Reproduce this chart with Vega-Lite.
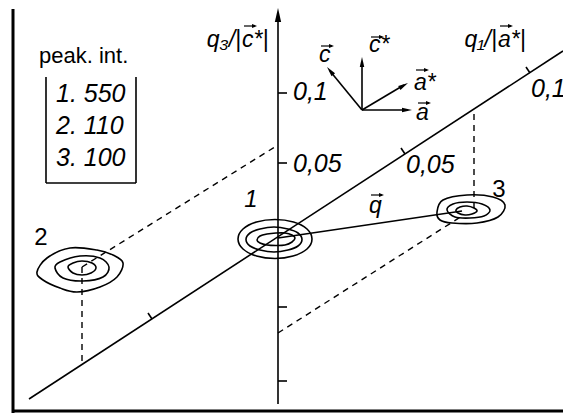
{
  "$schema": "https://vega.github.io/schema/vega-lite/v6.json",
  "width": 563,
  "height": 414,
  "padding": 0,
  "autosize": {"type": "none"},
  "background": "white",
  "config": {"view": {"stroke": null}},
  "datasets": {
    "segments": [
      {"g": "frame", "x": 13, "y": 9, "x2": 13, "y2": 413},
      {"g": "frame", "x": 12, "y": 411, "x2": 563, "y2": 411},
      {"g": "axis", "x": 278, "y": 18, "x2": 278, "y2": 404},
      {"g": "axis", "x": 29, "y": 399, "x2": 563, "y2": 51},
      {"g": "axis", "x": 278, "y": 93, "x2": 287, "y2": 93},
      {"g": "axis", "x": 278, "y": 163, "x2": 287, "y2": 163},
      {"g": "axis", "x": 278, "y": 307, "x2": 287, "y2": 307},
      {"g": "axis", "x": 278, "y": 381, "x2": 287, "y2": 381},
      {"g": "axis", "x": 405, "y": 154, "x2": 401, "y2": 148},
      {"g": "axis", "x": 530, "y": 73, "x2": 526, "y2": 67},
      {"g": "axis", "x": 152, "y": 319, "x2": 148, "y2": 313},
      {"g": "dash", "x": 82, "y": 267, "x2": 82, "y2": 364},
      {"g": "dash", "x": 82, "y": 267, "x2": 278, "y2": 145},
      {"g": "dash", "x": 474, "y": 114, "x2": 474, "y2": 210},
      {"g": "dash", "x": 278, "y": 333, "x2": 462, "y2": 216},
      {"g": "axis", "x": 278, "y": 238, "x2": 462, "y2": 211},
      {"g": "axis", "x": 362, "y": 110, "x2": 362, "y2": 62},
      {"g": "axis", "x": 362, "y": 110, "x2": 330, "y2": 71},
      {"g": "axis", "x": 362, "y": 110, "x2": 404, "y2": 85},
      {"g": "axis", "x": 362, "y": 110, "x2": 408, "y2": 110},
      {"g": "axis", "x": 46, "y": 77, "x2": 46, "y2": 183},
      {"g": "axis", "x": 46, "y": 183, "x2": 136, "y2": 183},
      {"g": "axis", "x": 136, "y": 77, "x2": 136, "y2": 183},
      {"g": "vec", "x": 321, "y": 46, "x2": 332, "y2": 46},
      {"g": "vec", "x": 371, "y": 37, "x2": 382, "y2": 37},
      {"g": "vec", "x": 416, "y": 70, "x2": 427, "y2": 70},
      {"g": "vec", "x": 418, "y": 103, "x2": 429, "y2": 103},
      {"g": "vec", "x": 371, "y": 195, "x2": 382, "y2": 195},
      {"g": "vec", "x": 244, "y": 26, "x2": 255, "y2": 26},
      {"g": "vec", "x": 500, "y": 26, "x2": 511, "y2": 26}
    ],
    "heads": [
      {"g": "big", "x": 278, "y": 8, "dir": 0},
      {"g": "small", "x": 362, "y": 57, "dir": 0},
      {"g": "small", "x": 327, "y": 67, "dir": 321},
      {"g": "small", "x": 408, "y": 83, "dir": 60},
      {"g": "small", "x": 412, "y": 110, "dir": 90},
      {"g": "tiny", "x": 334, "y": 46, "dir": 90},
      {"g": "tiny", "x": 384, "y": 37, "dir": 90},
      {"g": "tiny", "x": 429, "y": 70, "dir": 90},
      {"g": "tiny", "x": 431, "y": 103, "dir": 90},
      {"g": "tiny", "x": 384, "y": 195, "dir": 90},
      {"g": "tiny", "x": 257, "y": 26, "dir": 90},
      {"g": "tiny", "x": 513, "y": 26, "dir": 90}
    ],
    "contours": [
      {"c": "1o", "i": 0, "x": 312, "y": 239}, {"c": "1o", "i": 1, "x": 307, "y": 249},
      {"c": "1o", "i": 2, "x": 293, "y": 256}, {"c": "1o", "i": 3, "x": 275, "y": 258.5},
      {"c": "1o", "i": 4, "x": 256.5, "y": 256}, {"c": "1o", "i": 5, "x": 243, "y": 249},
      {"c": "1o", "i": 6, "x": 238, "y": 239}, {"c": "1o", "i": 7, "x": 243, "y": 229},
      {"c": "1o", "i": 8, "x": 256.5, "y": 222}, {"c": "1o", "i": 9, "x": 275, "y": 219.5},
      {"c": "1o", "i": 10, "x": 293.5, "y": 222}, {"c": "1o", "i": 11, "x": 307, "y": 229},
      {"c": "1m", "i": 0, "x": 302, "y": 239.5}, {"c": "1m", "i": 1, "x": 298, "y": 246},
      {"c": "1m", "i": 2, "x": 288, "y": 250}, {"c": "1m", "i": 3, "x": 274, "y": 252},
      {"c": "1m", "i": 4, "x": 260, "y": 250}, {"c": "1m", "i": 5, "x": 250, "y": 246},
      {"c": "1m", "i": 6, "x": 246, "y": 239.5}, {"c": "1m", "i": 7, "x": 250, "y": 233},
      {"c": "1m", "i": 8, "x": 260, "y": 229}, {"c": "1m", "i": 9, "x": 274, "y": 227},
      {"c": "1m", "i": 10, "x": 288, "y": 229}, {"c": "1m", "i": 11, "x": 298, "y": 233},
      {"c": "1i", "i": 0, "x": 295, "y": 238}, {"c": "1i", "i": 1, "x": 292, "y": 242},
      {"c": "1i", "i": 2, "x": 285, "y": 245}, {"c": "1i", "i": 3, "x": 276, "y": 245.5},
      {"c": "1i", "i": 4, "x": 267, "y": 245}, {"c": "1i", "i": 5, "x": 260, "y": 243},
      {"c": "1i", "i": 6, "x": 257, "y": 240}, {"c": "1i", "i": 7, "x": 260, "y": 236},
      {"c": "1i", "i": 8, "x": 267, "y": 234}, {"c": "1i", "i": 9, "x": 276, "y": 233},
      {"c": "1i", "i": 10, "x": 285, "y": 233}, {"c": "1i", "i": 11, "x": 292, "y": 235},
      {"c": "2o", "i": 0, "x": 123, "y": 263}, {"c": "2o", "i": 1, "x": 117, "y": 277},
      {"c": "2o", "i": 2, "x": 100, "y": 287}, {"c": "2o", "i": 3, "x": 77, "y": 292},
      {"c": "2o", "i": 4, "x": 60, "y": 288}, {"c": "2o", "i": 5, "x": 43, "y": 280},
      {"c": "2o", "i": 6, "x": 37, "y": 272}, {"c": "2o", "i": 7, "x": 47, "y": 258},
      {"c": "2o", "i": 8, "x": 70, "y": 248}, {"c": "2o", "i": 9, "x": 97, "y": 250},
      {"c": "2o", "i": 10, "x": 113, "y": 255},
      {"c": "2m", "i": 0, "x": 109, "y": 267}, {"c": "2m", "i": 1, "x": 103, "y": 277},
      {"c": "2m", "i": 2, "x": 83, "y": 281}, {"c": "2m", "i": 3, "x": 63, "y": 278},
      {"c": "2m", "i": 4, "x": 55, "y": 268}, {"c": "2m", "i": 5, "x": 60, "y": 262},
      {"c": "2m", "i": 6, "x": 80, "y": 256}, {"c": "2m", "i": 7, "x": 100, "y": 258},
      {"c": "2i", "i": 0, "x": 96, "y": 268}, {"c": "2i", "i": 1, "x": 91, "y": 273},
      {"c": "2i", "i": 2, "x": 82, "y": 275}, {"c": "2i", "i": 3, "x": 73, "y": 273},
      {"c": "2i", "i": 4, "x": 68, "y": 267}, {"c": "2i", "i": 5, "x": 73, "y": 263},
      {"c": "2i", "i": 6, "x": 82, "y": 261}, {"c": "2i", "i": 7, "x": 92, "y": 263},
      {"c": "3o", "i": 0, "x": 505, "y": 205}, {"c": "3o", "i": 1, "x": 498, "y": 217},
      {"c": "3o", "i": 2, "x": 477, "y": 223}, {"c": "3o", "i": 3, "x": 452, "y": 223},
      {"c": "3o", "i": 4, "x": 440, "y": 220}, {"c": "3o", "i": 5, "x": 437, "y": 212},
      {"c": "3o", "i": 6, "x": 443, "y": 200}, {"c": "3o", "i": 7, "x": 467, "y": 195},
      {"c": "3o", "i": 8, "x": 493, "y": 197},
      {"c": "3m", "i": 0, "x": 490, "y": 210}, {"c": "3m", "i": 1, "x": 484, "y": 216},
      {"c": "3m", "i": 2, "x": 470, "y": 218}, {"c": "3m", "i": 3, "x": 455, "y": 217},
      {"c": "3m", "i": 4, "x": 447, "y": 210}, {"c": "3m", "i": 5, "x": 453, "y": 204},
      {"c": "3m", "i": 6, "x": 467, "y": 202}, {"c": "3m", "i": 7, "x": 482, "y": 204},
      {"c": "3i", "i": 0, "x": 477, "y": 211}, {"c": "3i", "i": 1, "x": 472, "y": 214},
      {"c": "3i", "i": 2, "x": 465, "y": 215}, {"c": "3i", "i": 3, "x": 458, "y": 213},
      {"c": "3i", "i": 4, "x": 456, "y": 210}, {"c": "3i", "i": 5, "x": 460, "y": 207},
      {"c": "3i", "i": 6, "x": 467, "y": 206}, {"c": "3i", "i": 7, "x": 474, "y": 208}
    ],
    "labels": [
      {"g": "tick", "x": 293, "y": 100, "t": "0,1"},
      {"g": "tick", "x": 293, "y": 172, "t": "0,05"},
      {"g": "tick", "x": 406, "y": 173, "t": "0,05"},
      {"g": "tick", "x": 531, "y": 97, "t": "0,1"},
      {"g": "axR", "x": 241, "y": 47, "t": "q₃/|"},
      {"g": "it23", "x": 242, "y": 47, "t": "c*|"},
      {"g": "axR", "x": 497, "y": 47, "t": "q₁/|"},
      {"g": "it23", "x": 498, "y": 47, "t": "a*|"},
      {"g": "it23", "x": 319, "y": 62, "t": "c"},
      {"g": "it23", "x": 369, "y": 52, "t": "c*"},
      {"g": "it23", "x": 414, "y": 90, "t": "a*"},
      {"g": "it23", "x": 416, "y": 120, "t": "a"},
      {"g": "it23", "x": 369, "y": 213, "t": "q"},
      {"g": "spotI", "x": 251, "y": 207, "t": "1"},
      {"g": "spot", "x": 41, "y": 245, "t": "2"},
      {"g": "spot", "x": 499, "y": 197, "t": "3"},
      {"g": "title", "x": 39, "y": 63, "t": "peak. int."},
      {"g": "entry", "x": 56, "y": 102, "t": "1. 550"},
      {"g": "entry", "x": 56, "y": 134, "t": "2. 110"},
      {"g": "entry", "x": 56, "y": 166, "t": "3. 100"}
    ]
  },
  "layer": [
    {
      "data": {"name": "segments"},
      "transform": [{"filter": "datum.g === 'frame'"}],
      "mark": {"type": "rule", "color": "black", "strokeWidth": 3},
      "encoding": {
        "x": {"field": "x", "type": "quantitative", "scale": {"domain": [0, 563], "nice": false}, "axis": null},
        "y": {"field": "y", "type": "quantitative", "scale": {"domain": [0, 414], "nice": false, "reverse": true}, "axis": null},
        "x2": {"field": "x2"},
        "y2": {"field": "y2"}
      }
    },
    {
      "data": {"name": "segments"},
      "transform": [{"filter": "datum.g === 'axis'"}],
      "mark": {"type": "rule", "color": "black", "strokeWidth": 1.6},
      "encoding": {
        "x": {"field": "x", "type": "quantitative"},
        "y": {"field": "y", "type": "quantitative"},
        "x2": {"field": "x2"},
        "y2": {"field": "y2"}
      }
    },
    {
      "data": {"name": "segments"},
      "transform": [{"filter": "datum.g === 'vec'"}],
      "mark": {"type": "rule", "color": "black", "strokeWidth": 1.2},
      "encoding": {
        "x": {"field": "x", "type": "quantitative"},
        "y": {"field": "y", "type": "quantitative"},
        "x2": {"field": "x2"},
        "y2": {"field": "y2"}
      }
    },
    {
      "data": {"name": "segments"},
      "transform": [{"filter": "datum.g === 'dash'"}],
      "mark": {"type": "rule", "color": "black", "strokeWidth": 1.4, "strokeDash": [6, 5]},
      "encoding": {
        "x": {"field": "x", "type": "quantitative"},
        "y": {"field": "y", "type": "quantitative"},
        "x2": {"field": "x2"},
        "y2": {"field": "y2"}
      }
    },
    {
      "data": {"name": "contours"},
      "mark": {"type": "line", "color": "black", "strokeWidth": 1.6, "interpolate": "cardinal-closed"},
      "encoding": {
        "x": {"field": "x", "type": "quantitative"},
        "y": {"field": "y", "type": "quantitative"},
        "detail": {"field": "c"},
        "order": {"field": "i", "type": "quantitative"}
      }
    },
    {
      "data": {"name": "heads"},
      "transform": [{"filter": "datum.g === 'big'"}],
      "mark": {"type": "point", "filled": true, "color": "black", "opacity": 1, "size": 196, "shape": "M0,0L0.45,2L-0.45,2Z"},
      "encoding": {
        "x": {"field": "x", "type": "quantitative"},
        "y": {"field": "y", "type": "quantitative"},
        "angle": {"field": "dir", "type": "quantitative", "scale": null}
      }
    },
    {
      "data": {"name": "heads"},
      "transform": [{"filter": "datum.g === 'small'"}],
      "mark": {"type": "point", "filled": true, "color": "black", "opacity": 1, "size": 100, "shape": "M0,0L0.45,2L-0.45,2Z"},
      "encoding": {
        "x": {"field": "x", "type": "quantitative"},
        "y": {"field": "y", "type": "quantitative"},
        "angle": {"field": "dir", "type": "quantitative", "scale": null}
      }
    },
    {
      "data": {"name": "heads"},
      "transform": [{"filter": "datum.g === 'tiny'"}],
      "mark": {"type": "point", "filled": true, "color": "black", "opacity": 1, "size": 25, "shape": "M0,0L0.8,2L-0.8,2Z"},
      "encoding": {
        "x": {"field": "x", "type": "quantitative"},
        "y": {"field": "y", "type": "quantitative"},
        "angle": {"field": "dir", "type": "quantitative", "scale": null}
      }
    },
    {
      "data": {"name": "labels"},
      "transform": [{"filter": "datum.g === 'tick'"}],
      "mark": {"type": "text", "align": "left", "baseline": "alphabetic", "font": "Liberation Sans", "fontSize": 25, "fontStyle": "italic"},
      "encoding": {
        "x": {"field": "x", "type": "quantitative"},
        "y": {"field": "y", "type": "quantitative"},
        "text": {"field": "t"}
      }
    },
    {
      "data": {"name": "labels"},
      "transform": [{"filter": "datum.g === 'axR'"}],
      "mark": {"type": "text", "align": "right", "baseline": "alphabetic", "font": "Liberation Sans", "fontSize": 23, "fontStyle": "italic"},
      "encoding": {
        "x": {"field": "x", "type": "quantitative"},
        "y": {"field": "y", "type": "quantitative"},
        "text": {"field": "t"}
      }
    },
    {
      "data": {"name": "labels"},
      "transform": [{"filter": "datum.g === 'it23'"}],
      "mark": {"type": "text", "align": "left", "baseline": "alphabetic", "font": "Liberation Sans", "fontSize": 23, "fontStyle": "italic"},
      "encoding": {
        "x": {"field": "x", "type": "quantitative"},
        "y": {"field": "y", "type": "quantitative"},
        "text": {"field": "t"}
      }
    },
    {
      "data": {"name": "labels"},
      "transform": [{"filter": "datum.g === 'title'"}],
      "mark": {"type": "text", "align": "left", "baseline": "alphabetic", "font": "Liberation Sans", "fontSize": 22},
      "encoding": {
        "x": {"field": "x", "type": "quantitative"},
        "y": {"field": "y", "type": "quantitative"},
        "text": {"field": "t"}
      }
    },
    {
      "data": {"name": "labels"},
      "transform": [{"filter": "datum.g === 'spot'"}],
      "mark": {"type": "text", "align": "center", "baseline": "alphabetic", "font": "Liberation Sans", "fontSize": 24},
      "encoding": {
        "x": {"field": "x", "type": "quantitative"},
        "y": {"field": "y", "type": "quantitative"},
        "text": {"field": "t"}
      }
    },
    {
      "data": {"name": "labels"},
      "transform": [{"filter": "datum.g === 'spotI'"}],
      "mark": {"type": "text", "align": "center", "baseline": "alphabetic", "font": "Liberation Sans", "fontSize": 24, "fontStyle": "italic"},
      "encoding": {
        "x": {"field": "x", "type": "quantitative"},
        "y": {"field": "y", "type": "quantitative"},
        "text": {"field": "t"}
      }
    },
    {
      "data": {"name": "labels"},
      "transform": [{"filter": "datum.g === 'entry'"}],
      "mark": {"type": "text", "align": "left", "baseline": "alphabetic", "font": "Liberation Sans", "fontSize": 25, "fontStyle": "italic"},
      "encoding": {
        "x": {"field": "x", "type": "quantitative"},
        "y": {"field": "y", "type": "quantitative"},
        "text": {"field": "t"}
      }
    }
  ]
}
